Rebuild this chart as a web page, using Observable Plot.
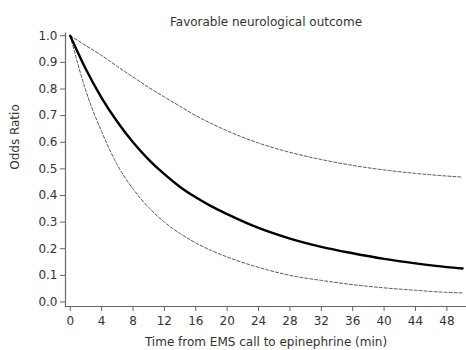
<!DOCTYPE html>
<html>
<head>
<meta charset="utf-8">
<script src="https://cdn.jsdelivr.net/npm/d3@7"></script>
<script src="https://cdn.jsdelivr.net/npm/@observablehq/plot@0.6"></script>
<style>
  html, body { margin: 0; padding: 0; background: #fff; }
  #chart svg { display: block; }
</style>
</head>
<body>
<div id="chart"></div>
<script>
const title = "Favorable neurological outcome";
const xLabel = "Time from EMS call to epinephrine (min)";
const yLabel = "Odds Ratio";

const minutes = [0, 2, 4, 6, 8, 10, 12, 14, 16, 18, 20, 24, 28, 32, 36, 40, 44, 48, 50];
const oddsRatio = [1.0, 0.874, 0.767, 0.677, 0.600, 0.535, 0.480, 0.432, 0.393, 0.359, 0.330, 0.278, 0.238, 0.207, 0.183, 0.162, 0.145, 0.131, 0.126];
const upperCI = [1.0, 0.963, 0.926, 0.885, 0.845, 0.806, 0.770, 0.735, 0.700, 0.670, 0.643, 0.597, 0.562, 0.535, 0.513, 0.496, 0.483, 0.473, 0.469];
const lowerCI = [1.0, 0.793, 0.640, 0.515, 0.425, 0.355, 0.300, 0.257, 0.222, 0.193, 0.169, 0.130, 0.100, 0.081, 0.065, 0.053, 0.044, 0.036, 0.034];

const xTicks = [0, 4, 8, 12, 16, 20, 24, 28, 32, 36, 40, 44, 48];
const yTicks = [0, 0.1, 0.2, 0.3, 0.4, 0.5, 0.6, 0.7, 0.8, 0.9, 1.0];

const rows = minutes.map((t, i) => ({t, or: oddsRatio[i], hi: upperCI[i], lo: lowerCI[i]}));

const font = "DejaVu Sans, sans-serif";
const textColor = "#333";
const axisColor = "#666";

const chart = Plot.plot({
  width: 466,
  height: 350,
  marginLeft: 65,
  marginRight: 0,
  marginTop: 32.6,
  marginBottom: 44,
  style: {fontFamily: font, fontSize: "12px", color: textColor, background: "#fff"},
  x: {domain: [-0.6, 50.5]},
  y: {domain: [-0.017, 1.01]},
  marks: [
    Plot.frame({anchor: "left", stroke: axisColor, strokeWidth: 1.2}),
    Plot.frame({anchor: "bottom", stroke: axisColor, strokeWidth: 1.2}),
    Plot.axisX({ticks: xTicks, tickSize: 5, tickPadding: 5, tickFormat: d => String(d), label: null, stroke: axisColor, fill: textColor, fontSize: 12}),
    Plot.axisY({ticks: yTicks, tickSize: 5, tickPadding: 3, tickFormat: d3.format(".1f"), label: null, stroke: axisColor, fill: textColor, fontSize: 12}),
    Plot.line(rows, {x: "t", y: "hi", curve: "monotone-x", stroke: "#555", strokeWidth: 1, strokeDasharray: "3,2"}),
    Plot.line(rows, {x: "t", y: "lo", curve: "monotone-x", stroke: "#555", strokeWidth: 1, strokeDasharray: "3,2"}),
    Plot.line(rows, {x: "t", y: "or", curve: "monotone-x", stroke: "#000", strokeWidth: 2.4}),
    Plot.text([title], {text: d => d, frameAnchor: "top", dy: -16, fontSize: 12, fill: textColor}),
    Plot.text([xLabel], {text: d => d, frameAnchor: "bottom", dy: 39, fontSize: 12, fill: textColor}),
    Plot.text([yLabel], {text: d => d, frameAnchor: "left", rotate: -90, dx: -50, fontSize: 12, fill: textColor})
  ]
});
document.getElementById("chart").appendChild(chart);
</script>
</body>
</html>
